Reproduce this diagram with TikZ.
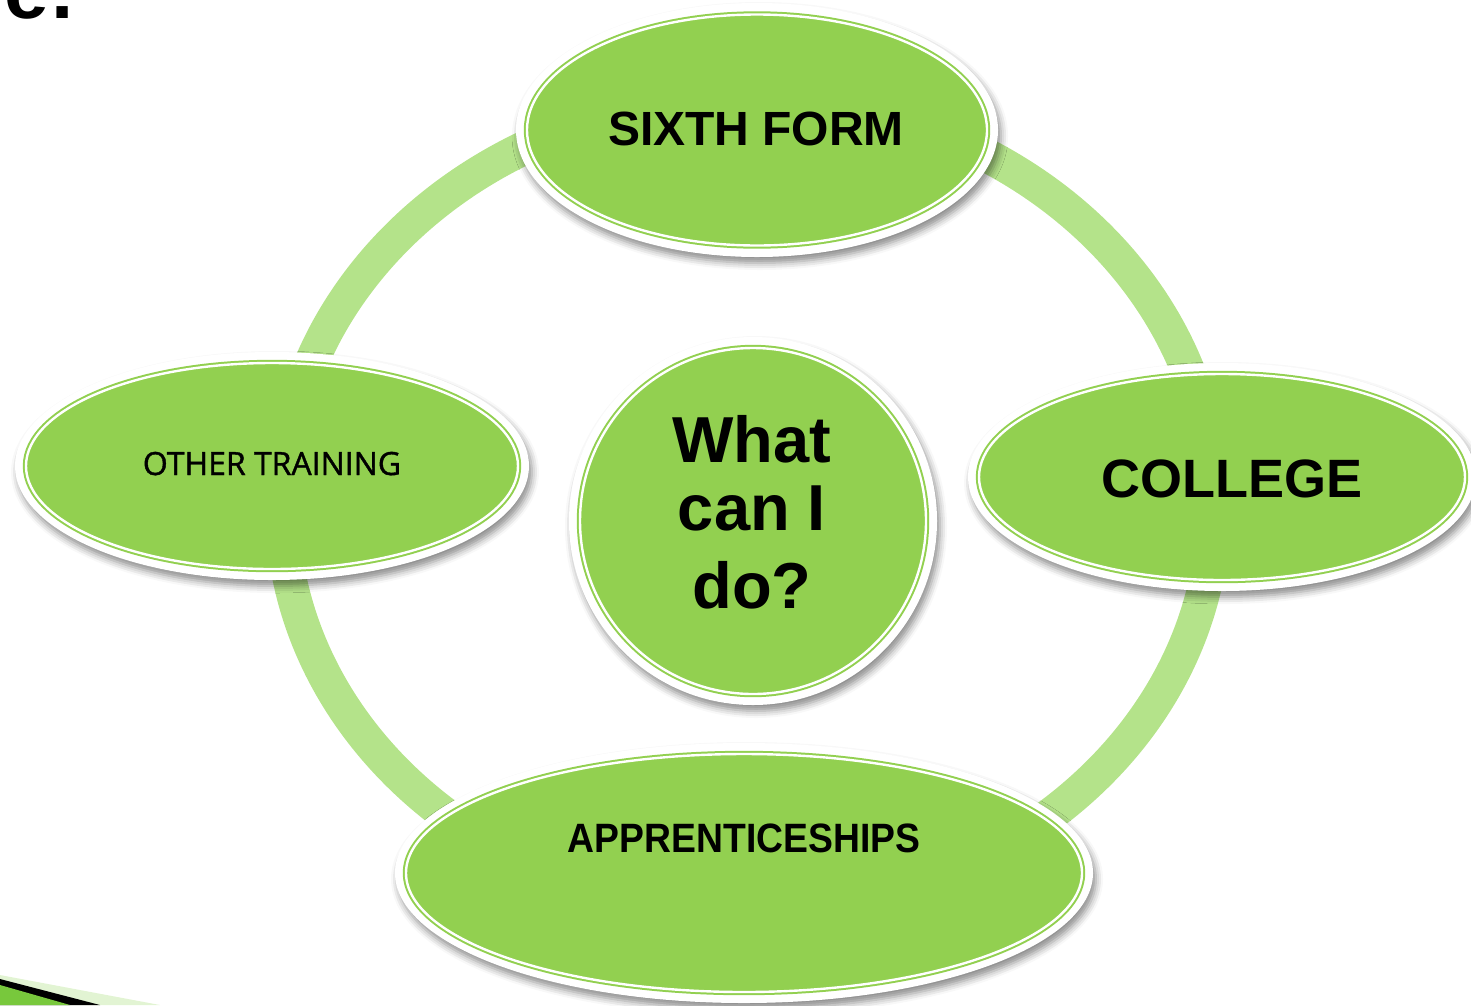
\documentclass[tikz,border=0pt]{standalone}
\usepackage{fontspec}
\setmainfont{Liberation Sans}
\newfontfamily\opensans[FakeBold=1.2]{Open Sans}
\usetikzlibrary{shapes.geometric,shadows.blur}
\definecolor{nodegreen}{HTML}{92D050}
\definecolor{ringgreen}{RGB}{180,227,138}
\definecolor{palegreen}{RGB}{226,244,211}
\definecolor{decogreen}{RGB}{120,200,60}
\begin{document}
\begin{tikzpicture}[x=1pt,y=-1pt,
  halo/.style={ellipse, fill=white, inner sep=0pt, outer sep=0pt,
    blur shadow={shadow xshift=3pt, shadow yshift=-6pt, shadow blur radius=7pt, shadow opacity=45}},
  bubble/.style={ellipse, fill=nodegreen, draw=nodegreen, line width=2pt,
    double=white, double distance=2.4pt, inner sep=0pt},
  lbl/.style={anchor=base, text=black, inner sep=0pt}]
\useasboundingbox (0,0) rectangle (1471,1005);
\clip (0,0) rectangle (1471,1005);

% ring
\draw[ringgreen, line width=34pt] (748,505) ellipse [x radius=466, y radius=407];

% halos
\node[halo, minimum width=482pt, minimum height=254pt] (sixthhalo) at (757,130) {};
\node[halo, minimum width=508pt, minimum height=228pt] (collegehalo) at (1222,477) {};
\node[halo, minimum width=698pt, minimum height=260pt] (apphalo) at (744,873) {};
\node[halo, minimum width=514pt, minimum height=228pt] (otherhalo) at (272,466) {};
\node[halo, circle, minimum size=368pt] (centerhalo) at (753,521) {};

% bubbles
\node[bubble, minimum width=460pt, minimum height=231pt] (sixth) at (757,130) {};
\node[bubble, minimum width=486pt, minimum height=206pt] (college) at (1222,477) {};
\node[bubble, minimum width=676pt, minimum height=238pt] (app) at (744,873) {};
\node[bubble, minimum width=492pt, minimum height=206pt] (other) at (272,466) {};
\node[bubble, circle, minimum size=346pt] (center) at (753,521) {};

% labels
\node[lbl, font=\fontsize{48}{48}\selectfont\bfseries] (sixthtxt) at (756,145) {SIXTH FORM};
\node[lbl, font=\fontsize{54}{54}\selectfont\bfseries] (collegetxt) at (1232,497) {COLLEGE};
\node[lbl, font=\fontsize{41}{41}\selectfont\bfseries] (apptxt) at (744,852) {\scalebox{0.91}[1]{APPRENTICESHIPS}};
\node[lbl, font=\opensans\fontsize{32}{32}\selectfont] (othertxt) at (272,475) {OTHER TRAINING};
\node[anchor=north, inner sep=0pt, align=center, font=\fontsize{65}{68}\selectfont\bfseries] (centertxt) at (752,415.5) {What\\can I\\[10pt]do?};

% title fragment
\node[anchor=base west, inner sep=0pt, font=\fontsize{80}{80}\selectfont\bfseries] (titlee) at (4,18) {e\kern3pt.};

% corner decoration
\fill[palegreen] (0,975) -- (160,1005) -- (0,1005) -- cycle;
\fill[black] (0,979) -- (100,1005) -- (0,1005) -- cycle;
\fill[decogreen] (0,985) -- (70,1005) -- (0,1005) -- cycle;
\end{tikzpicture}
\end{document}
